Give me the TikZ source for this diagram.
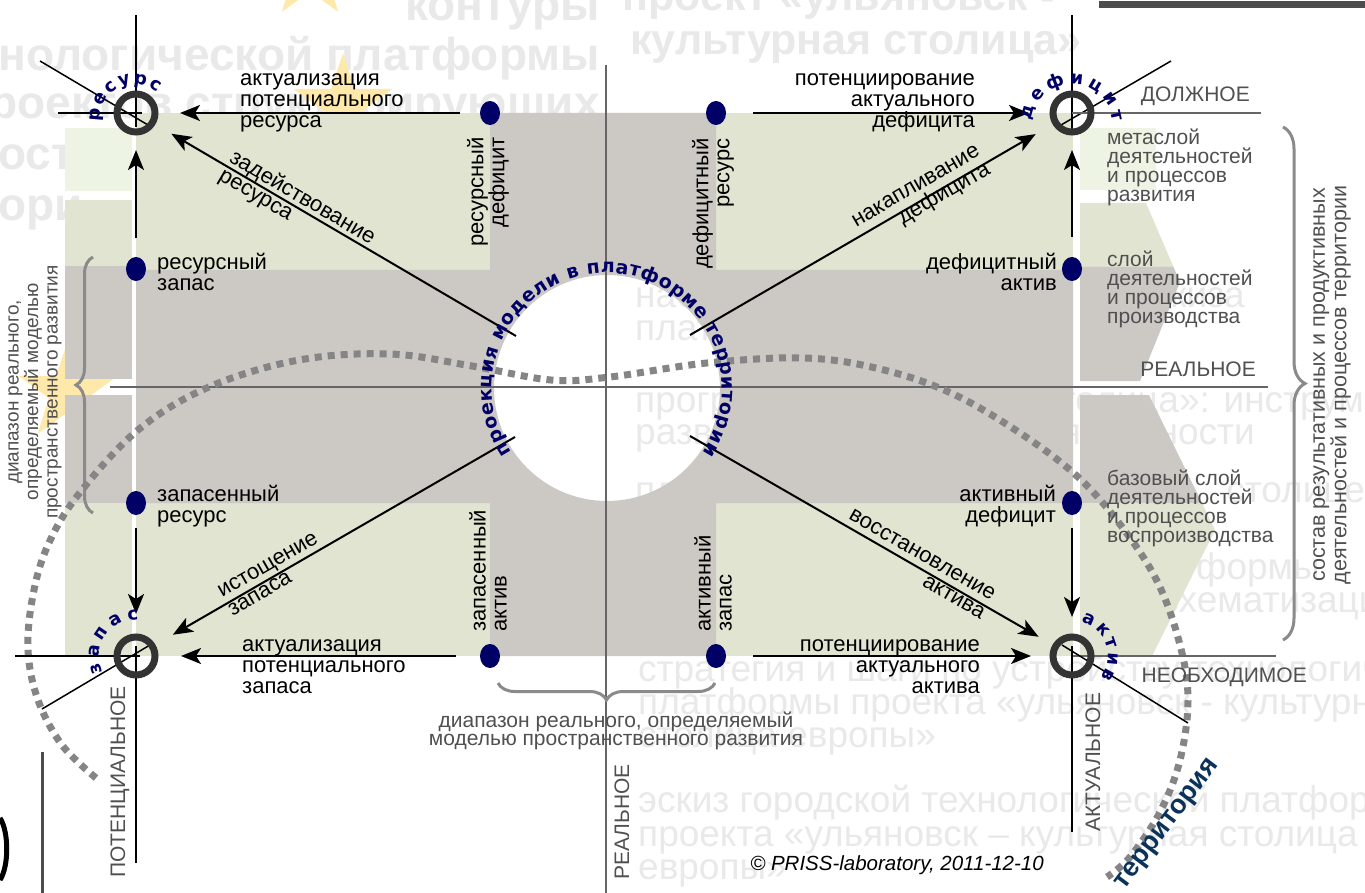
\documentclass[tikz,border=0pt]{standalone}
\usepackage{fontspec}
\setmainfont{Liberation Sans}
\newfontfamily\dejavu{DejaVu Sans}
\usetikzlibrary{arrows.meta,shapes.geometric,decorations.text,decorations.pathreplacing}
\newcommand{\myfs}[2]{\fontsize{#1}{#2}\selectfont}
\definecolor{grn}{HTML}{E1E4D0}
\definecolor{pale}{HTML}{EEF4E4}
\definecolor{gry}{HTML}{CCC8C3}
\definecolor{navy}{RGB}{0,0,102}
\definecolor{labg}{HTML}{505050}
\definecolor{ghost}{HTML}{E9E9E9}
\definecolor{dashc}{HTML}{858585}
\definecolor{ringc}{HTML}{333333}
\definecolor{starc}{HTML}{FFE9AA}
\definecolor{terr}{RGB}{10,50,90}
\definecolor{lineg}{HTML}{666666}
\definecolor{bracec}{HTML}{8A8A8A}
\definecolor{barc}{HTML}{4D4D4D}
\begin{document}
\begin{tikzpicture}[x=1pt,y=-1pt,
  lbl/.style={inner sep=0pt,font=\myfs{22}{21}},
  glab/.style={inner sep=0pt,text=labg,font=\myfs{21}{19}},
  caplab/.style={inner sep=0pt,text=labg,font=\myfs{21}{21}},
  brlab/.style={inner sep=0pt,text=labg,font=\myfs{19}{19.5}},
  ghb/.style={inner sep=0pt,text=ghost,font=\bfseries\myfs{46}{46}},
  ghbr/.style={inner sep=0pt,text=ghost,font=\bfseries\myfs{43}{43}},
  ghr/.style={inner sep=0pt,text=ghost,font=\myfs{37}{34}},
  dotn/.style={ellipse,fill=navy,minimum width=20pt,minimum height=24pt,inner sep=0pt},
  ringn/.style={circle,draw=ringc,line width=7pt,minimum size=38pt,inner sep=0pt},
  arr/.style={line width=2pt,-{Stealth[length=20pt,width=16pt,inset=5pt]}},
  xline/.style={line width=1.5pt,draw=black},
  refl/.style={line width=2.5pt,draw=lineg},
  brc/.style={decorate,line width=3pt,draw=bracec},
  dotc/.style={line width=7pt,draw=dashc,dash pattern=on 7pt off 6pt},
  starn/.style={star,star points=5,star point ratio=2.6,fill=starc,inner sep=0pt}
]
\useasboundingbox (0,0) rectangle (1365,893);
\fill[white] (0,0) rectangle (1365,893);

% ---------- ghost background text ----------
\node[ghb,anchor=base east] (g1) at (600,21) {контуры};
\node[ghbr,anchor=base west] (g2) at (622,11) {проект «ульяновск -};
\node[ghbr,anchor=base west] (g3) at (630,55) {культурная столица»};
\node[ghb,anchor=base east] (g4) at (600,71) {технологической платформы};
\node[ghb,anchor=base east] (g5) at (600,119) {проектов структурирующих};
\node[ghb,anchor=base west] (g6) at (-2,170) {ост};
\node[ghb,anchor=base west] (g7) at (-2,221) {ори};
\node[ghr,anchor=base west] (g8) at (635,308) {наброски};
\node[ghr,anchor=base east] (g9) at (1245,308) {эскиза};
\node[ghr,anchor=base west] (g10) at (635,340) {платформы};
\node[ghr,anchor=base west] (g11) at (635,412) {программа};
\node[ghr,anchor=base west] (g12) at (1040,412) {столица»: инструменты};
\node[ghr,anchor=base west] (g13) at (635,444) {развития};
\node[ghr,anchor=base east] (g14) at (1255,444) {деятельности};
\node[ghr,anchor=base west] (g15) at (635,502) {платформы};
\node[ghr,anchor=base east] (g16) at (1365,502) {столице};
\node[ghr,anchor=base west] (g17) at (1165,579) {и формы};
\node[ghr,anchor=base west] (g18) at (1160,612) {схематизации};
\node[ghr,anchor=base west] (g19) at (638,681) {стратегия и шаги по устройству технологической};
\node[ghr,anchor=base west] (g20) at (638,714) {платформы проекта «ульяновск - культурная};
\node[ghr,anchor=base west] (g21) at (638,747) {столица европы»};
\node[ghr,anchor=base west] (g22) at (638,812) {эскиз городской технологической платформы};
\node[ghr,anchor=base west] (g23) at (638,846) {проекта «ульяновск – культурная столица};
\node[ghr,anchor=base west] (g24) at (638,879) {европы»};

% ---------- stars ----------
\node[starn,minimum size=104pt] (st1) at (343,105) {};
\node[starn,minimum size=96pt] (st2) at (310,-27) {};
\node[starn,minimum size=104pt] (st3) at (68,392) {};

% ---------- background shapes ----------
\fill[pale] (65,128) rectangle (132,191);
\fill[grn] (65,200) rectangle (132,266);
\fill[gry] (65,266) rectangle (132,379);
\fill[gry] (65,395) rectangle (132,503);
\fill[grn] (65,503) rectangle (132,656);
\fill[grn] (136,113) rectangle (490,270);
\fill[grn] (716,113) rectangle (1073,270);
\fill[grn] (136,503) rectangle (490,656);
\fill[grn] (716,503) rectangle (1073,656);
\fill[gry,even odd rule] (136,270) -- (490,270) -- (490,113) -- (716,113) -- (716,270) -- (1073,270) -- (1073,503) -- (716,503) -- (716,656) -- (490,656) -- (490,503) -- (136,503) -- cycle (607,388) circle[radius=113];
\fill[pale] (1080,128) rectangle (1156,190);
\fill[grn] (1080,203) -- (1146,203) -- (1173.5,267) -- (1080,267) -- cycle;
\fill[gry] (1080,267) -- (1173.5,267) -- (1180,282) -- (1140,381) -- (1080,381) -- cycle;
\fill[gry] (1080,395) -- (1149,395) -- (1202,503) -- (1080,503) -- cycle;
\fill[grn] (1080,503) -- (1202,503) -- (1215,530) -- (1152,656) -- (1080,656) -- cycle;

% ---------- reference lines ----------
\draw[line width=1.5pt,draw=lineg] (606,65) -- (606,893);
\draw[refl] (110,387) -- (1268,387);
\fill[barc] (1099,1) rectangle (1365,8);
\draw[line width=3pt,draw=barc] (42,752) -- (42,893);
\draw[line width=5pt] (0,818) .. controls (9,832) and (9,866) .. (0,880);

% ---------- braces ----------
\draw[brc,decoration={brace,amplitude=17pt}] (93,513) -- (93,257);
\draw[brc,decoration={brace,amplitude=17pt}] (715,683) -- (498,683);
\draw[brc,decoration={brace,amplitude=22pt}] (1283,127) -- (1283,640);

% ---------- dotted territory curve ----------
\draw[dotc] plot[smooth,tension=0.6] coordinates {(96,778) (62,745) (38,700) (28,650) (33,595) (48,545) (78,495) (138,430) (209,387) (299,360) (390,354) (472,366) (551,380) (610,377) (707,363) (805,358) (880,369) (951,393) (1020,433) (1078,477) (1122,527) (1158,583) (1180,645) (1188,700) (1180,760) (1160,812) (1130,857) (1107,877)};

% ---------- rings and dots ----------
\coordinate (R1c) at (136,113);
\coordinate (R2c) at (1072,113);
\coordinate (R3c) at (136,656);
\coordinate (R4c) at (1072,656);
\draw[xline] (136,15) -- (136,127);
\draw[xline] (58,113) -- (142,113);
\draw[xline] (40,61) -- (148,125);
\draw[xline] (1072,15) -- (1072,135);
\draw[xline] (1171,61) -- (1061,125);
\draw[refl] (R2c) -- (1261,113);
\draw[xline] (15,656) -- (140,656);
\draw[xline] (136,646) -- (136,863);
\draw[xline] (42,709) -- (150,645);
\draw[refl] (R4c) -- (1276,656);
\draw[xline] (1072,646) -- (1072,832);
\draw[xline] (1062,645) -- (1188,723);

\node[ringn] (R1) at (R1c) {};
\node[ringn] (R2) at (R2c) {};
\node[ringn] (R3) at (R3c) {};
\node[ringn] (R4) at (R4c) {};

\node[dotn] (D1) at (490,113) {};
\node[dotn] (D2) at (716,113) {};
\node[dotn] (D3) at (136,269) {};
\node[dotn] (D4) at (1072,269) {};
\node[dotn] (D5) at (136,503) {};
\node[dotn] (D6) at (1072,503) {};
\node[dotn] (D7) at (490,656) {};
\node[dotn] (D8) at (716,656) {};

\coordinate (C1) at (516,336);
\coordinate (C2) at (690,335);
\coordinate (C3) at (515,437);
\coordinate (C4) at (690,436);

% ---------- arrows ----------
\draw[arr,shorten <=20pt,shorten >=21.5pt] (D1) -- (R1);
\draw[arr,shorten >=18.5pt] (C1) -- (R1);
\draw[arr,shorten <=19pt,shorten >=14.5pt] (D3) -- (R1);
\draw[arr,shorten <=27pt,shorten >=20.5pt] (D2) -- (R2);
\draw[arr,shorten >=19.5pt] (C2) -- (R2);
\draw[arr,shorten <=20pt,shorten >=14.5pt] (D4) -- (R2);
\draw[arr,shorten >=20pt] (C3) -- (R3);
\draw[arr,shorten <=13pt,shorten >=19.5pt] (D5) -- (R3);
\draw[arr,shorten <=24pt,shorten >=22.5pt] (D7) -- (R3);
\draw[arr,shorten >=16pt] (C4) -- (R4);
\draw[arr,shorten <=27pt,shorten >=18.5pt] (D8) -- (R4);
\draw[arr,shorten <=13pt,shorten >=16.5pt] (D6) -- (R4);

% ---------- black labels ----------
\node[lbl,anchor=west,align=left] (t1) at (240,103) {актуализация\\потенциального\\ресурса};
\node[lbl,anchor=east,align=right] (t2) at (975,103) {потенциирование\\актуального\\дефицита};
\node[lbl,anchor=west,align=left] (t3) at (242,667) {актуализация\\потенциального\\запаса};
\node[lbl,anchor=east,align=right] (t4) at (980,667) {потенциирование\\актуального\\актива};
\node[lbl,anchor=west,align=left] (t5) at (157,272) {ресурсный\\запас};
\node[lbl,anchor=east,align=right] (t6) at (1057,272) {дефицитный\\актив};
\node[lbl,anchor=west,align=left] (t7) at (157,506) {запасенный\\ресурс};
\node[lbl,anchor=east,align=right] (t8) at (1056,506) {активный\\дефицит};
\node[lbl,rotate=90,anchor=east,align=right] (t9) at (488,137) {ресурсный\\дефицит};
\node[lbl,rotate=90,anchor=east,align=right] (t10) at (713,138) {дефицитный\\ресурс};
\node[lbl,rotate=90,anchor=west,align=left] (t11) at (488,632) {запасенный\\актив};
\node[lbl,rotate=90,anchor=west,align=left] (t12) at (713,632) {активный\\запас};
\node[lbl,rotate=-30.4,align=left] (t13) at (297,207) {задействование\\ресурса};
\node[lbl,rotate=30.2,align=right] (t14) at (922,197) {накапливание\\дефицита};
\node[lbl,rotate=30,align=left] (t15) at (273,574) {истощение\\запаса};
\node[lbl,rotate=-29.9,align=right] (t16) at (917,564) {восстановление\\актива};

% ---------- grey labels ----------
\node[glab,anchor=west,align=left] (m1) at (1107,167) {метаслой\\деятельностей\\и процессов\\развития};
\node[glab,anchor=west,align=left] (m2) at (1107,289) {слой\\деятельностей\\и процессов\\производства};
\node[glab,anchor=west,align=left] (m3) at (1107,508) {базовый слой\\деятельностей\\и процессов\\воспроизводства};
\node[caplab,anchor=east] (k1) at (1250,96) {ДОЛЖНОЕ};
\node[caplab,anchor=east] (k2) at (1256,369) {РЕАЛЬНОЕ};
\node[caplab,anchor=east] (k3) at (1307,677) {НЕОБХОДИМОЕ};
\node[caplab,rotate=90] (k4) at (120,782) {ПОТЕНЦИАЛЬНОЕ};
\node[caplab,rotate=90] (k5) at (1093,762) {АКТУАЛЬНОЕ};
\node[caplab,rotate=90] (k6) at (622,822) {РЕАЛЬНОЕ};
\node[inner sep=0pt,text=labg,font=\myfs{21}{18},align=center] (b1) at (616,731) {диапазон реального, определяемый\\моделью пространственного развития};
\node[brlab,rotate=90,align=center] (b2) at (35,392) {диапазон реального,\\определяемый моделью\\пространственного развития};
\node[inner sep=0pt,text=labg,font=\myfs{21.5}{20},rotate=90,align=center] (b3) at (1332,385) {состав результативных и продуктивных\\деятельностей и процессов территории};
\node[inner sep=0pt,font=\itshape\myfs{20.5}{20}] (cp) at (897,865) {© PRISS-laboratory, 2011-12-10};

% ---------- curved navy labels ----------
\path[decorate,decoration={text along path,text color=navy,text align={fit to path},text={|\dejavu\bfseries\myfs{19}{19}|проекция модели в платформе территории}}] (607,388) ++(-214:115) arc[start angle=-214,end angle=34,radius=115];
\path[decorate,decoration={text along path,text color=navy,text align={fit to path},text={|\dejavu\bfseries\myfs{18}{18}|ресурс}}] (134,118) ++(-186:34) arc[start angle=-186,end angle=-48,radius=34];
\path[decorate,decoration={text along path,text color=navy,text align={fit to path},text={|\dejavu\bfseries\myfs{18}{18}|дефицит}}] (1072,125) ++(-174:41) arc[start angle=-174,end angle=-5,radius=41];
\path[decorate,decoration={text along path,text color=navy,text align={fit to path},text={|\dejavu\bfseries\myfs{18}{18}|запас}}] (136,657) ++(-205:37) arc[start angle=-205,end angle=-86,radius=37];
\path[decorate,decoration={text along path,text color=navy,text align={fit to path},text={|\dejavu\bfseries\myfs{18}{18}|актив}}] (1073,656) ++(-76:35) arc[start angle=-76,end angle=38,radius=35];
\node[inner sep=0pt,text=terr,font=\bfseries\myfs{27}{27},rotate=53] (terr) at (1168,825) {территория};
\end{tikzpicture}
\end{document}
